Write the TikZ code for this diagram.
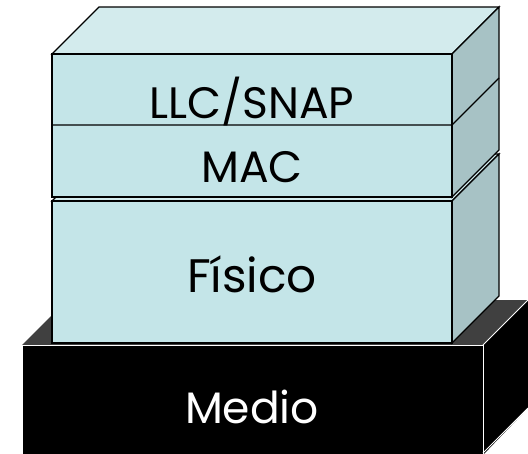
\documentclass[tikz,border=0pt]{standalone}
\usepackage{fontspec}
\setmainfont{Poppins}
\definecolor{frontc}{HTML}{C4E5E8}
\definecolor{topc}{HTML}{D3EBED}
\definecolor{sidec}{HTML}{A7C2C5}
\definecolor{medtop}{HTML}{404040}
\begin{document}
\begin{tikzpicture}[x=1pt,y=-1pt,
  face/.style={draw=black,line width=1.4pt,line join=miter},
  mface/.style={draw=white,line width=0.8pt,line join=miter},
  lbl/.style={anchor=base,inner sep=0pt,font=\fontsize{44}{44}\selectfont},
  blbl/.style={anchor=base,inner sep=0pt,font=\fontsize{47}{47}\selectfont}]
\useasboundingbox (0,0) rectangle (528,453);
% Medio (bottom black block)
\fill[medtop] (22,345) -- (67,300) -- (528,300) -- (483,345) -- cycle;
\fill[black] (483,345) -- (528,300) -- (528,408) -- (483,455) -- cycle;
\fill[black] (22,345) rectangle (483,455);
\draw[mface] (22,455) -- (22,345) -- (483,345) -- (483,455);
\draw[mface] (483,345) -- (528,300);
\draw[mface] (483,453) -- (528,408);
% Fisico block
\filldraw[face,fill=topc] (52,201) -- (99,154) -- (499,154) -- (452,201) -- cycle;
\filldraw[face,fill=sidec] (452,201) -- (499,154) -- (499,296) -- (452,343) -- cycle;
\filldraw[face,fill=frontc] (52,201) rectangle (452,343);
% LLC/SNAP + MAC block
\filldraw[face,fill=topc] (52,54) -- (99,7) -- (499,7) -- (452,54) -- cycle;
\filldraw[face,fill=sidec] (452,54) -- (499,7) -- (499,150) -- (452,197) -- cycle;
\filldraw[face,fill=frontc] (52,54) rectangle (452,197);
\draw[face] (52,125) -- (452,125) -- (499,78);
% labels
\node[lbl] (llc) at (252,118) {LLC/SNAP};
\node[lbl] (mac) at (252,182) {MAC};
\node[blbl] (fis) at (252,292) {Físico};
\node[lbl,text=white] (med) at (252,423) {Medio};
\end{tikzpicture}
\end{document}
